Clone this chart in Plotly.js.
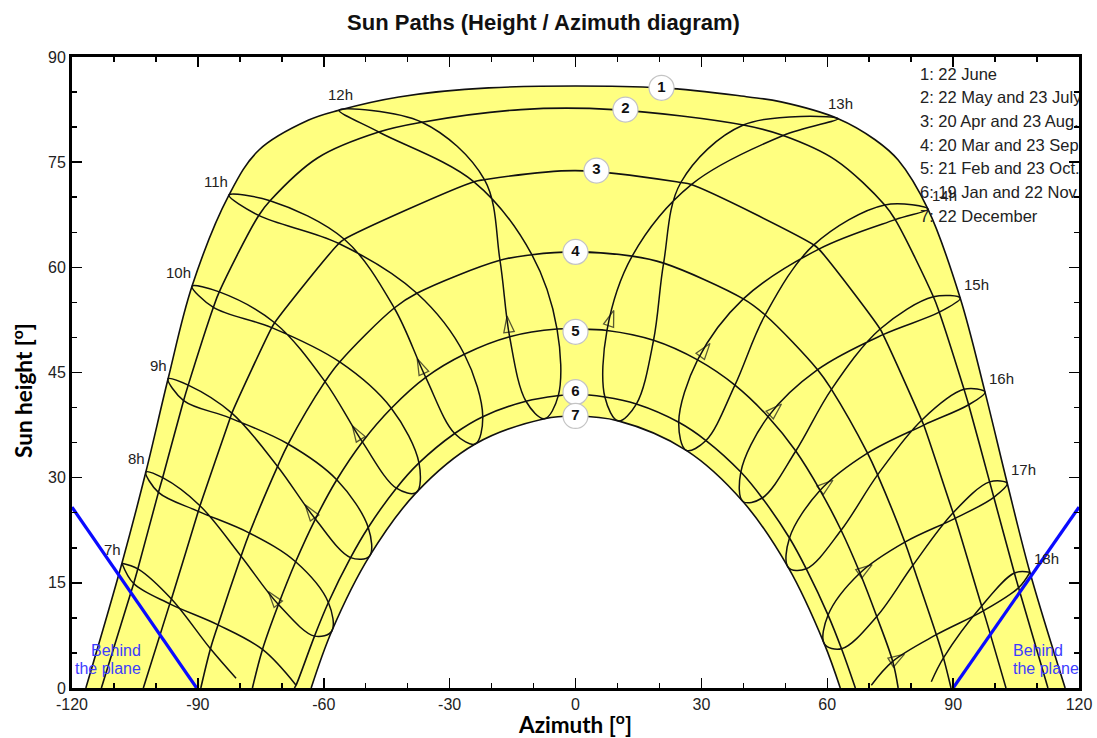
<!DOCTYPE html>
<html>
<head>
<meta charset="utf-8">
<script src="https://cdn.plot.ly/plotly-3.0.1.min.js"></script>
<style>html,body{margin:0;padding:0;background:#fff;}#chart{width:1097px;height:738px;}</style>
</head>
<body>
<div id="chart"></div>
<script>
// ---------------- data ----------------
const hours = [7, 8, 9, 10, 11, 12, 13, 14, 15, 16, 17, 18];

// sun position [azimuth, height] at each clock hour on each date; null = below horizon
const azJun22  = [-108.1, -102.4, -97.1, -91.4, -82.6, -56.4, 62.6, 84.0, 91.7, 97.6, 102.9, 108.3];
const altJun22 = [17.8, 30.8, 44.1, 57.3, 70.3, 82.4, 81.2, 68.3, 55.6, 42.2, 29.2, 16.5];
const azMay22  = [-104.3, -98.4, -92.3, -84.9, -72.8, -36.6, 49.5, 76.2, 86.7, 93.7, 99.7, 105.6];
const altMay22 = [17.0, 30.0, 43.2, 56.5, 69.5, 80.7, 78.8, 66.8, 53.6, 40.4, 27.2, 14.3];
const azJul23  = [-105.3, -99.4, -93.4, -86.3, -75.5, -46.9, 40.0, 73.7, 85.3, 92.6, 98.7, 104.6];
const altJul23 = [14.9, 27.9, 41.0, 54.3, 67.4, 79.3, 80.3, 68.9, 55.8, 42.6, 29.4, 16.4];
const azApr20  = [-96.3, -89.5, -81.9, -71.7, -55.1, -21.7, 27.6, 58.0, 73.3, 83.0, 90.5, 97.2];
const altApr20 = [12.7, 26.0, 39.2, 52.1, 64.0, 72.5, 71.8, 62.6, 50.4, 37.5, 24.2, 11.0];
const azAug23  = [-96.7, -89.9, -82.3, -72.4, -56.4, -24.2, 25.1, 56.8, 72.6, 82.5, 90.0, 96.8];
const altAug23 = [12.0, 25.2, 38.5, 51.4, 63.4, 72.2, 72.1, 63.2, 51.2, 38.2, 25.0, 11.7];
const azMar20  = [-87.0, -79.7, -71.0, -59.7, -43.2, -18.0, 13.5, 40.0, 57.7, 69.6, 78.5, 86.0];
const altMar20 = [5.6, 18.8, 31.6, 43.7, 54.2, 61.0, 61.6, 55.5, 45.4, 33.5, 20.8, 7.6];
const azSep23  = [-85.2, -77.7, -68.5, -56.2, -37.8, -10.4, 21.0, 45.2, 61.0, 72.0, 80.4, 87.7];
const altSep23 = [9.0, 22.1, 34.8, 46.5, 56.3, 61.8, 60.6, 53.2, 42.6, 30.4, 17.5, 4.3];
const azFeb21  = [null, -70.8, -62.0, -50.8, -35.7, -15.7, 7.5, 29.1, 45.9, 58.3, 67.8, 75.6];
const altFeb21 = [null, 11.9, 24.1, 35.1, 44.3, 50.1, 51.0, 46.8, 38.7, 28.2, 16.4, 3.8];
const azOct23  = [-74.6, -66.7, -56.9, -43.9, -26.5, -4.4, 18.6, 38.0, 52.5, 63.3, 71.8, null];
const altOct23 = [5.5, 18.0, 29.7, 39.9, 47.6, 51.2, 49.6, 43.2, 33.8, 22.5, 10.2, null];
const azJan19  = [null, -62.2, -53.6, -42.7, -28.8, -11.8, 7.0, 24.6, 39.4, 51.0, 60.2, null];
const altJan19 = [null, 7.4, 18.6, 28.5, 36.3, 40.9, 41.5, 37.9, 30.8, 21.4, 10.4, null];
const azNov22  = [-66.6, -58.9, -49.4, -37.3, -22.1, -4.1, 14.5, 31.1, 44.5, 55.0, 63.4, null];
const altNov22 = [0.4, 12.2, 22.9, 32.1, 38.7, 41.7, 40.5, 35.3, 27.1, 17.0, 5.6, null];
const azDec22  = [null, -58.1, -49.1, -37.9, -23.9, -7.4, 10.2, 26.4, 39.9, 50.7, 59.3, null];
const altDec22 = [null, 8.1, 18.8, 27.9, 34.8, 38.4, 38.1, 33.9, 26.6, 17.2, 6.3, null];

// where the cut hour lines leave the horizon
const endFallAz    = [null, null, null, null, null, null, null, null, null, null, null, 84.8];
const endFallAlt   = [null, null, null, null, null, null, null, null, null, null, null, 0.9];
const endSpringAz  = [-80.9, null, null, null, null, null, null, null, null, null, null, 70.5];
const endSpringAlt = [1.4, null, null, null, null, null, null, null, null, null, null, 0.4];

// date curves: sunrise / sunset azimuths and extra midday vertices
const curveNumbers = ['1', '2', '3', '4', '5', '6', '7'];
const riseAz = [-116.7, -113.0, -103.0, -89.3, -77.0, -67.0, -63.0];
const setAz  = [116.7, 112.6, 102.6, 89.5, 76.9, 66.7, 63.1];
const midAz1 = [-75.5, -63.6, -42.1, -20.7, 20.5, 41.2, 49.0, 71.4, 76.9];
const midAlt1 = [76.7, 81.0, 84.3, 85.6, 85.6, 84.3, 83.6, 78.2, 75.3];
const midAz2 = [-61.5, -13.0, 9.0, 62.0];
const midAlt2 = [75.6, 82.5, 82.5, 75.3];
const midAz3 = [0]; const midAlt3 = [73.8];
const midAz4 = [0]; const midAlt4 = [62.2];
const midAz5 = [0]; const midAlt5 = [51.2];
const midAz6 = [0]; const midAlt6 = [41.9];
const midAz7 = [0]; const midAlt7 = [38.8];
const curveLabelAz  = [20.5, 11.9, 5.0, 0, 0, 0, 0];
const curveLabelAlt = [85.6, 82.5, 73.8, 62.2, 50.8, 42.2, 38.8];

const legendText = ['1: 22 June', '2: 22 May and 23 July', '3: 20 Apr and 23 Aug.',
  '4: 20 Mar and 23 Sep.', '5: 21 Feb and 23 Oct.', '6: 19 Jan and 22 Nov.', '7: 22 December'];

// "behind the plane" limits
const planeLeftAz = [-120, -90.3];  const planeLeftAlt = [25.8, 0];
const planeRightAz = [90.0, 120];   const planeRightAlt = [0, 25.8];

const xTickVals = [-120, -90, -60, -30, 0, 30, 60, 90, 120];
const xTickText = ['-120', '-90', '-60', '-30', '0', '30', '60', '90', '120'];
const yTickVals = [0, 15, 30, 45, 60, 75, 90];
const yTickText = ['0', '15', '30', '45', '60', '75', '90'];

// ---------------- build ----------------
const curveSeries = [
  [[azJun22, altJun22]],
  [[azMay22, altMay22], [azJul23, altJul23]],
  [[azApr20, altApr20], [azAug23, altAug23]],
  [[azMar20, altMar20], [azSep23, altSep23]],
  [[azFeb21, altFeb21], [azOct23, altOct23]],
  [[azJan19, altJan19], [azNov22, altNov22]],
  [[azDec22, altDec22]]
];
const midAz = [midAz1, midAz2, midAz3, midAz4, midAz5, midAz6, midAz7];
const midAlt = [midAlt1, midAlt2, midAlt3, midAlt4, midAlt5, midAlt6, midAlt7];

function curvePts(k) {
  const pts = [[riseAz[k], 0], [setAz[k], 0]];
  curveSeries[k].forEach(([az, alt]) => az.forEach((a, i) => {
    if (a !== null && alt[i] !== null) pts.push([a, alt[i]]);
  }));
  midAz[k].forEach((a, i) => pts.push([a, midAlt[k][i]]));
  pts.sort((p, q) => p[0] - q[0]);
  return {x: pts.map(p => p[0]), y: pts.map(p => p[1])};
}

const SPL = {shape: 'spline', smoothing: 1};
const LINE = '#111';
const traces = [];

const c1 = curvePts(0), c7 = curvePts(6);
traces.push({x: c1.x, y: c1.y, mode: 'lines', fill: 'tozeroy', fillcolor: '#FFFF80',
  line: Object.assign({color: 'rgba(0,0,0,0)', width: 0}, SPL), hoverinfo: 'skip'});
traces.push({x: c7.x, y: c7.y, mode: 'lines', fill: 'tozeroy', fillcolor: '#FFFFFF',
  line: Object.assign({color: 'rgba(0,0,0,0)', width: 0}, SPL), hoverinfo: 'skip'});

for (let k = 0; k < 7; k++) {
  const c = curvePts(k);
  traces.push({x: c.x, y: c.y, mode: 'lines', line: Object.assign({color: LINE, width: 1.6}, SPL), hoverinfo: 'skip'});
}

// hour loops (analemmas)
const fallSeq = [[azJul23, altJul23], [azAug23, altAug23], [azSep23, altSep23], [azOct23, altOct23], [azNov22, altNov22]];
const springSeq = [[azJan19, altJan19], [azFeb21, altFeb21], [azMar20, altMar20], [azApr20, altApr20], [azMay22, altMay22]];
hours.forEach((h, i) => {
  const J = [azJun22[i], altJun22[i]];
  const F = fallSeq.map(([a, b]) => [a[i], b[i]]).filter(p => p[0] !== null);
  const S = springSeq.map(([a, b]) => [a[i], b[i]]).filter(p => p[0] !== null);
  let branches;
  if (azDec22[i] !== null) {
    branches = [[J, ...F, [azDec22[i], altDec22[i]], ...S, J]];
  } else {
    const fb = [J, ...F];
    if (endFallAz[i] !== null) fb.push([endFallAz[i], endFallAlt[i]]);
    const sb = [...S, J];
    if (endSpringAz[i] !== null) sb.unshift([endSpringAz[i], endSpringAlt[i]]);
    branches = [fb, sb];
  }
  branches.forEach(b => traces.push({x: b.map(p => p[0]), y: b.map(p => p[1]), mode: 'lines',
    line: Object.assign({color: LINE, width: 1.5}, SPL), hoverinfo: 'skip'}));
});

// direction arrows on the spring branch (Feb -> Mar)
const arX = [], arY = [], arS = [];
hours.forEach((h, i) => {
  if (azFeb21[i] === null || azMar20[i] === null) return;
  const t = 0.27;
  arX.push(azFeb21[i], azFeb21[i] + t * (azMar20[i] - azFeb21[i]));
  arY.push(altFeb21[i], altFeb21[i] + t * (altMar20[i] - altFeb21[i]));
  arS.push(0, 17);
});
traces.push({x: arX, y: arY, mode: 'markers', hoverinfo: 'skip',
  marker: {symbol: 'arrow-open', size: arS, angleref: 'previous', color: LINE, line: {color: LINE, width: 1.3}}});

// behind-the-plane limits
traces.push({x: planeLeftAz, y: planeLeftAlt, mode: 'lines', line: {color: '#0a0aff', width: 3.2}, hoverinfo: 'skip'});
traces.push({x: planeRightAz, y: planeRightAlt, mode: 'lines', line: {color: '#0a0aff', width: 3.2}, hoverinfo: 'skip'});

// date-curve number badges
traces.push({x: curveLabelAz, y: curveLabelAlt, mode: 'markers+text', text: curveNumbers,
  textposition: 'middle center', hoverinfo: 'skip',
  textfont: {family: 'Liberation Sans, Arial, sans-serif', size: 15, color: '#111', weight: 'bold'},
  marker: {size: 25, color: '#ffffff', line: {color: '#c4c4c4', width: 1.2}}});

// key text (clipped by the plot frame like the original)
traces.push({x: legendText.map(() => 82.1), y: [87.3, 84.0, 80.6, 77.2, 73.9, 70.5, 67.0],
  mode: 'text', text: legendText, textposition: 'middle right', cliponaxis: true, hoverinfo: 'skip',
  textfont: {family: 'Liberation Sans, Arial, sans-serif', size: 16.5, color: '#222'}});

const annotations = [];
const labFont = {family: 'Liberation Sans, Arial, sans-serif', size: 15, color: '#222'};
hours.forEach((h, i) => {
  const noon = (h === 12 || h === 13);
  annotations.push({x: azJun22[i], y: altJun22[i], xref: 'x', yref: 'y', text: h + 'h', showarrow: false,
    xanchor: h < 12 ? 'right' : (noon ? 'center' : 'left'), yanchor: 'bottom',
    xshift: h < 12 ? 1 : (noon ? 2 : 2), yshift: noon ? 5 : 3, font: labFont});
});
const blueFont = {family: 'Liberation Sans, Arial, sans-serif', size: 16, color: '#3c3cff'};
annotations.push({x: -103.1, y: 5.3, xref: 'x', yref: 'y', text: 'Behind', showarrow: false, xanchor: 'right', yanchor: 'middle', font: blueFont});
annotations.push({x: -103.1, y: 2.85, xref: 'x', yref: 'y', text: 'the plane', showarrow: false, xanchor: 'right', yanchor: 'middle', font: blueFont});
annotations.push({x: 103.8, y: 5.3, xref: 'x', yref: 'y', text: 'Behind', showarrow: false, xanchor: 'left', yanchor: 'middle', font: blueFont});
annotations.push({x: 103.8, y: 2.85, xref: 'x', yref: 'y', text: 'the plane', showarrow: false, xanchor: 'left', yanchor: 'middle', font: blueFont});

const axTitleFont = {family: 'Lato, Open Sans, sans-serif', size: 22.5, color: '#000', weight: 'bold'};
// y-axis title, placed as in the original (slightly below the plot centre)
annotations.push({xref: 'paper', yref: 'paper', x: -0.0497, y: 0.4723, text: 'Sun height [<sup>o</sup>]',
  textangle: -90, showarrow: false, xanchor: 'center', yanchor: 'middle', font: axTitleFont});

const tickFont = {family: 'Liberation Sans, Arial, sans-serif', size: 16, color: '#222'};
const axCommon = {ticks: 'inside', ticklen: 10, tickwidth: 1.5, tickcolor: '#000', showline: true,
  linewidth: 3, linecolor: '#000', mirror: 'ticks', showgrid: false, zeroline: false, tickfont: tickFont, fixedrange: true};

const layout = {
  width: 1097, height: 738,
  margin: {l: 72, r: 18, t: 57, b: 50},
  paper_bgcolor: '#fff', plot_bgcolor: '#fff', showlegend: false,
  title: {text: 'Sun Paths (Height / Azimuth diagram)', x: 0.4954, xanchor: 'center', y: 0.970, yanchor: 'middle', yref: 'container',
    font: {family: 'Liberation Sans, Arial, sans-serif', size: 22, color: '#111', weight: 'bold'}},
  xaxis: Object.assign({}, axCommon, {range: [-120, 120], tickmode: 'array', tickvals: xTickVals, ticktext: xTickText,
    minor: {dtick: 10, tick0: 0, ticks: 'inside', ticklen: 5, tickwidth: 1.5, tickcolor: '#000'},
    title: {text: 'Azimuth [<sup>o</sup>]', font: axTitleFont, standoff: 7}}),
  yaxis: Object.assign({}, axCommon, {range: [0, 90], tickmode: 'array', tickvals: yTickVals, ticktext: yTickText,
    minor: {dtick: 5, tick0: 0, ticks: 'inside', ticklen: 5, tickwidth: 1.5, tickcolor: '#000'}}),
  annotations: annotations
};

Plotly.newPlot('chart', traces, layout, {displayModeBar: false, staticPlot: true});
</script>
</body>
</html>
